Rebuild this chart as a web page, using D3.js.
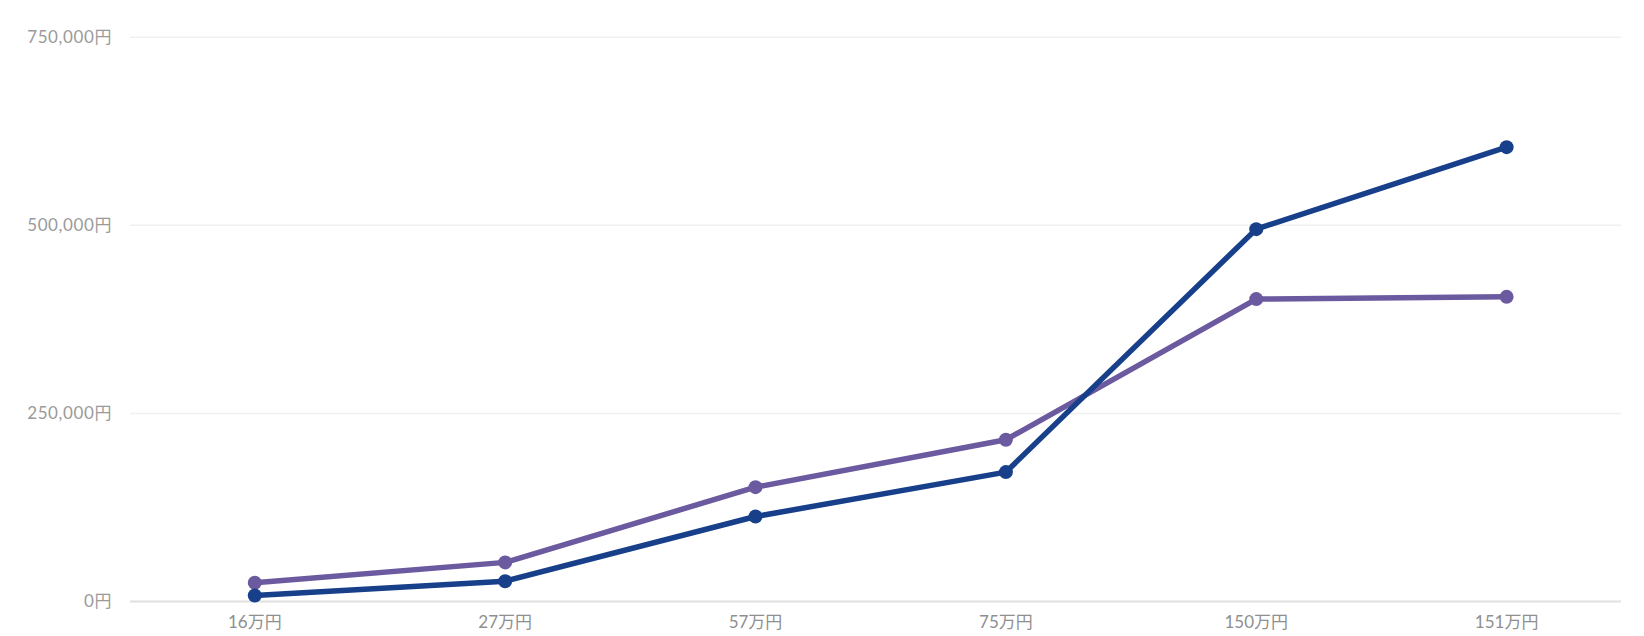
<!DOCTYPE html>
<html>
<head>
<meta charset="utf-8">
<script src="https://d3js.org/d3.v7.min.js"></script>
<style>
  body { margin: 0; padding: 0; background: #fff; }
  text { font-family: Lato, "Noto Sans CJK JP", sans-serif; }
</style>
</head>
<body>
<div id="svg_cont"></div>
<script>

// chart data
var categories = ['16万円', '27万円', '57万円', '75万円', '150万円', '151万円'];
var series_blue = [8000, 27000, 113000, 172000, 495000, 604000];
var series_purple = [25000, 52000, 152000, 215000, 402000, 405000];
var y_ticks = [0, 250000, 500000, 750000];

var w = 1644, h = 636;

var svg_main = d3.select('#svg_cont')
  .append('svg')
  .attr('width', w)
  .attr('height', h);

const x = d3.scalePoint()
  .domain(categories)
  .range([129.6, 1631.8])
  .padding(0.5);

const y = d3.scaleLinear()
  .domain([0, 750000])
  .range([601.5, 37.3]);

// grid lines
svg_main.append('g')
  .selectAll('line')
  .data(y_ticks)
  .enter().append('line')
    .attr('x1', 130)
    .attr('x2', 1621)
    .attr('y1', d => y(d))
    .attr('y2', d => y(d))
    .attr('stroke', d => d === 0 ? '#e0e0e0' : '#f0f0f0')
    .attr('stroke-width', d => d === 0 ? 2 : 1.5);

// y labels
svg_main.append('g')
  .selectAll('text')
  .data(y_ticks)
  .enter().append('text')
    .attr('x', 112)
    .attr('y', d => y(d))
    .attr('dy', '0.35em')
    .attr('text-anchor', 'end')
    .attr('fill', '#9a9a9a')
    .attr('font-size', 17)
    .attr('letter-spacing', 0.6)
    .text(d => d3.format(',')(d) + '円');

// x labels
svg_main.append('g')
  .selectAll('text')
  .data(categories)
  .enter().append('text')
    .attr('x', d => x(d))
    .attr('y', 628)
    .attr('text-anchor', 'middle')
    .attr('fill', '#8f8f8f')
    .attr('font-size', 17)
    .text(d => d);

var series = [
  { values: series_purple, color: '#6b5a9f' },
  { values: series_blue, color: '#173f8a' }
];

const line = d3.line()
  .x((d, i) => x(categories[i]))
  .y(d => y(d));

series.forEach(function(s) {
  var g = svg_main.append('g');
  g.append('path')
    .attr('d', line(s.values))
    .attr('fill', 'none')
    .attr('stroke', s.color)
    .attr('stroke-width', 5.5)
    .attr('stroke-linejoin', 'round');
  g.selectAll('circle')
    .data(s.values)
    .enter().append('circle')
      .attr('cx', (d, i) => x(categories[i]))
      .attr('cy', d => y(d))
      .attr('r', 7)
      .attr('fill', s.color);
});

</script>
</body>
</html>
